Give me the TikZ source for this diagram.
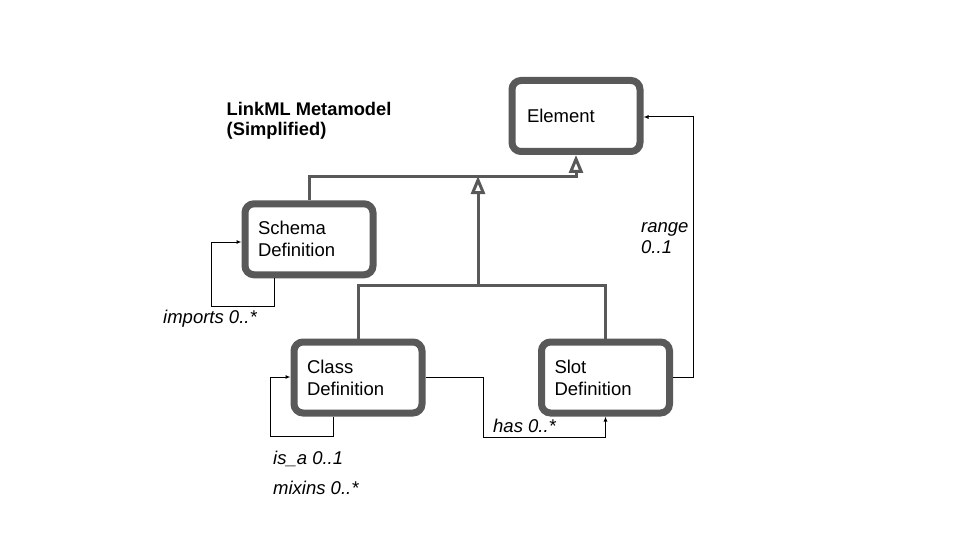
\documentclass[tikz,border=0pt]{standalone}
\usepackage{fontspec}
\setmainfont{Liberation Sans}
\usetikzlibrary{arrows.meta}
\definecolor{boxgray}{HTML}{595959}
\begin{document}
\begin{tikzpicture}[x=1pt,y=-1pt,
  cls/.style={draw=boxgray, line width=7pt, rounded corners=9pt, fill=white,
    minimum height=71pt, text width=102pt, align=left, inner xsep=13pt,
    inner ysep=0pt, outer sep=3.5pt, font=\fontsize{18.5}{22}\selectfont},
  gen/.style={draw=boxgray, line width=3pt},
  genarrow/.style={gen, -{Triangle[length=18pt, width=14pt, fill=white, line width=3pt]}},
  assoc/.style={draw=black, line width=1pt, -{Latex[length=5pt,width=4pt]}},
  lbl/.style={font=\fontsize{18.5}{22}\selectfont\itshape, inner sep=0pt, anchor=base west},
  ttl/.style={font=\fontsize{18.3}{21}\selectfont\bfseries, inner sep=0pt, anchor=base west}
]
\fill[white] (0,0) rectangle (960,540);
\useasboundingbox (0,0) rectangle (960,540);

% classes
\node[cls, text width=98pt, inner xsep=15pt] (element) at (576,116) {Element};
\node[cls] (schema) at (309,239.3) {Schema\\Definition};
\node[cls] (class) at (358,377.5) {Class\\Definition};
\node[cls] (slot) at (605.5,377.5) {Slot\\Definition};

% title
\node[ttl] (t1) at (226.5,116) {LinkML Metamodel};
\node[ttl] (t2) at (226.5,136) {(Simplified)};

% generalisation
\coordinate (jtop) at (478,177);
\coordinate (jmid) at (478,285);
\coordinate (jtip) at (478,176);
\draw[genarrow] (schema.north) |- (jtop) -| (element.south);
\draw[gen] (class.north) |- (jmid) -| (slot.north);
\draw[genarrow] (jmid) -- (jtip);

% associations
\coordinate (impA) at (274,306);
\coordinate (impB) at (211,242);
\draw[assoc] (schema.south -| impA) -- (impA) -| (impB) -- (schema.west |- impB);

\coordinate (rngA) at (693,377);
\coordinate (rngB) at (693,117);
\draw[assoc] (slot.east |- rngA) -- (rngA) -- (rngB) -- (element.east |- rngB);

\coordinate (hasA) at (483.5,377);
\coordinate (hasB) at (483.5,437);
\draw[assoc] (class.east |- hasA) -- (hasA) -- (hasB) -| (slot.south);

\coordinate (isaA) at (333,436);
\coordinate (isaB) at (270,377);
\draw[assoc] (class.south -| isaA) -- (isaA) -| (isaB) -- (class.west |- isaB);

% labels
\node[lbl] (impL) at (163,323) {imports 0..*};
\node[lbl] (rngL1) at (641,232) {range};
\node[lbl] (rngL2) at (641,253) {0..1};
\node[lbl] (hasL) at (493,432) {has 0..*};
\node[lbl] (isaL) at (273,464) {is\_a 0..1};
\node[lbl] (mixL) at (273,494) {mixins 0..*};
\end{tikzpicture}
\end{document}
